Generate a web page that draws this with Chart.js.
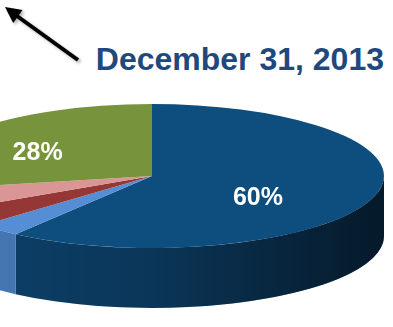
<!DOCTYPE html>
<html>
<head>
<meta charset="utf-8">
<script src="https://cdn.jsdelivr.net/npm/chart.js@4.4.0/dist/chart.umd.min.js"></script>
<style>
  html, body { margin: 0; padding: 0; background: #fff; }
  body { width: 393px; height: 327px; overflow: hidden; position: relative; font-family: "Liberation Sans", Arial, sans-serif; }
  #pie { position: absolute; left: -80px; top: -56px; }
  #title { position: absolute; right: 9px; top: 43px; font-size: 32px; line-height: 32px; font-weight: bold; color: #1f497d; white-space: nowrap; }
  #arrow { position: absolute; left: 0; top: 0; }
</style>
</head>
<body>
<svg id="arrow" width="100" height="80">
  <defs>
    <filter id="sh" x="-30%" y="-30%" width="160%" height="160%">
      <feDropShadow dx="2" dy="2" stdDeviation="1.5" flood-color="#000" flood-opacity="0.3"/>
    </filter>
  </defs>
  <g filter="url(#sh)">
    <line x1="78" y1="60" x2="17" y2="16" stroke="#000" stroke-width="4"/>
    <polygon points="5,7 22.6,9.9 13.2,22.9" fill="#000"/>
  </g>
</svg>
<div id="title">December 31, 2013</div>
<canvas id="pie" width="464" height="464"></canvas>
<script>
// slices, clockwise from 12 o'clock
const labels = ['Segment 1', 'Segment 2', 'Segment 3', 'Segment 4', 'Segment 5'];
const values = [60, 3, 4, 5, 28];
const topColors = ['#0e4e7e', '#558ed5', '#953735', '#d99694', '#77933c'];
const sideColors = ['#0d436e', '#4a7fc0', '#7d2b2a', '#c07c7a', '#64802f'];

// fakes the 3D look: squashes the pie and draws a wall under the front half
const pie3d = {
  id: 'pie3d',
  beforeDatasetsDraw(chart, args, opts) {
    const ctx = chart.ctx;
    const arcs = chart.getDatasetMeta(0).data;
    const cx = arcs[0].x, cy = arcs[0].y, R = arcs[0].outerRadius;
    const ry = R * opts.tilt, depth = opts.depth;

    ctx.save();
    arcs.forEach((arc, i) => {
      const a = Math.max(arc.startAngle, 0), b = Math.min(arc.endAngle, Math.PI);
      if (b <= a) return;
      ctx.beginPath();
      ctx.ellipse(cx, cy, R, ry, 0, a, b);
      ctx.ellipse(cx, cy + depth, R, ry, 0, b, a, true);
      ctx.closePath();
      ctx.fillStyle = sideColors[i];
      ctx.fill();
    });
    // darker toward the right
    const g = ctx.createLinearGradient(cx - R, 0, cx + R, 0);
    g.addColorStop(0, 'rgba(0,0,0,0)');
    g.addColorStop(0.5, 'rgba(0,0,0,0.2)');
    g.addColorStop(0.85, 'rgba(0,0,0,0.5)');
    g.addColorStop(1, 'rgba(0,0,0,0.62)');
    ctx.beginPath();
    ctx.ellipse(cx, cy, R, ry, 0, 0, Math.PI);
    ctx.ellipse(cx, cy + depth, R, ry, 0, Math.PI, 0, true);
    ctx.closePath();
    ctx.fillStyle = g;
    ctx.fill();
    ctx.restore();

    ctx.save();
    ctx.translate(cx, cy);
    ctx.scale(1, opts.tilt);
    ctx.translate(-cx, -cy);
  },
  afterDatasetsDraw(chart, args, opts) {
    const ctx = chart.ctx;
    ctx.restore();
    const arcs = chart.getDatasetMeta(0).data;
    ctx.save();
    ctx.fillStyle = '#fff';
    ctx.font = 'bold 25px "Liberation Sans", Arial, sans-serif';
    ctx.textAlign = 'center';
    ctx.textBaseline = 'middle';
    arcs.forEach((arc, i) => {
      if (values[i] < 10) return;
      const mid = (arc.startAngle + arc.endAngle) / 2;
      const f = values[i] > 50 ? 0.48 : 0.64;
      const shift = values[i] > 50 ? opts.labelShift + 3 : opts.labelShift - 2;
      const x = arc.x + arc.outerRadius * f * Math.cos(mid);
      const y = arc.y + arc.outerRadius * opts.tilt * f * Math.sin(mid) + shift;
      ctx.fillText(values[i] + '%', x, y);
    });
    ctx.restore();
  }
};

new Chart(document.getElementById('pie'), {
  type: 'pie',
  data: {
    labels: labels,
    datasets: [{
      data: values,
      backgroundColor: topColors,
      borderWidth: 0
    }]
  },
  options: {
    responsive: false,
    animation: false,
    events: [],
    plugins: {
      legend: { display: false },
      tooltip: { enabled: false },
      pie3d: { tilt: 0.31, depth: 60, labelShift: 8 }
    }
  },
  plugins: [pie3d]
});
</script>
</body>
</html>
